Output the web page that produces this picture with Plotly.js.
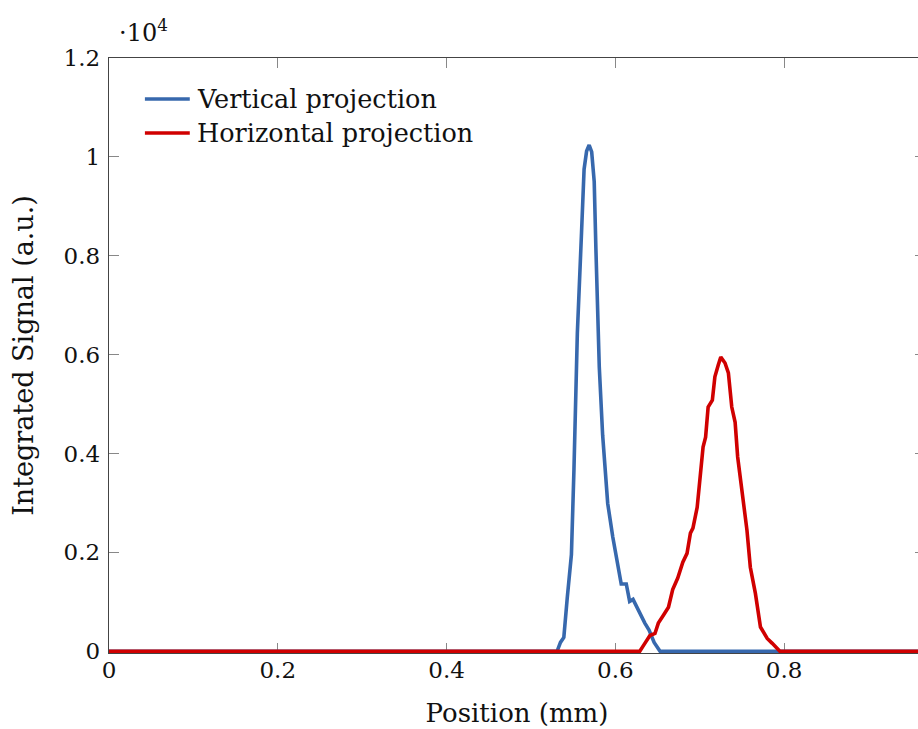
<!DOCTYPE html>
<html>
<head>
<meta charset="utf-8">
<script src="https://cdn.plot.ly/plotly-3.0.1.min.js"></script>
<style>
html, body { margin: 0; padding: 0; overflow: hidden; background: #fff; }
#chart { width: 930px; height: 729px; }
</style>
</head>
<body>
<div id="chart"></div>
<script>
// Values in units of 10^4 (a.u.)
const verticalX = [0, 0.531, 0.535, 0.539, 0.543, 0.548, 0.551, 0.555, 0.560, 0.563, 0.566, 0.569, 0.572, 0.575, 0.577, 0.581, 0.585, 0.591, 0.597, 0.603, 0.607, 0.613, 0.617, 0.621, 0.626, 0.632, 0.635, 0.640, 0.646, 0.653, 0.97];
const verticalY = [0, 0, 0.018, 0.028, 0.107, 0.196, 0.368, 0.643, 0.848, 0.975, 1.012, 1.024, 1.010, 0.950, 0.814, 0.575, 0.437, 0.299, 0.231, 0.170, 0.136, 0.136, 0.101, 0.105, 0.087, 0.067, 0.057, 0.043, 0.018, 0, 0];

const horizontalX = [0, 0.629, 0.635, 0.641, 0.647, 0.651, 0.657, 0.663, 0.668, 0.674, 0.680, 0.685, 0.689, 0.692, 0.697, 0.700, 0.704, 0.707, 0.710, 0.715, 0.718, 0.722, 0.725, 0.730, 0.734, 0.738, 0.742, 0.745, 0.750, 0.756, 0.760, 0.766, 0.772, 0.780, 0.786, 0.792, 0.795, 0.97];
const horizontalY = [0, 0, 0.016, 0.032, 0.036, 0.057, 0.073, 0.089, 0.125, 0.148, 0.180, 0.198, 0.239, 0.249, 0.291, 0.346, 0.413, 0.433, 0.494, 0.508, 0.555, 0.579, 0.595, 0.583, 0.563, 0.494, 0.463, 0.393, 0.326, 0.245, 0.170, 0.117, 0.049, 0.026, 0.016, 0.006, 0, 0];

const seriesNames = ['Vertical projection', 'Horizontal projection'];
const seriesColors = ['#3768ad', '#d00000'];

const xTickVals = [0, 0.2, 0.4, 0.6, 0.8];
const xTickText = ['0', '0.2', '0.4', '0.6', '0.8'];
const yTickVals = [0, 0.2, 0.4, 0.6, 0.8, 1, 1.2];
const yTickText = ['0', '0.2', '0.4', '0.6', '0.8', '1', '1.2'];

const FONT = 'DejaVu Serif, serif';
const TXT = '#111';

const traces = [
  { x: verticalX, y: verticalY, mode: 'lines', name: seriesNames[0],
    line: { color: seriesColors[0], width: 3.6 } },
  { x: horizontalX, y: horizontalY, mode: 'lines', name: seriesNames[1],
    line: { color: seriesColors[1], width: 3.6 } }
];

const axisCommon = {
  showgrid: false, zeroline: false, showline: true, mirror: 'allticks',
  linecolor: '#444', linewidth: 1.3, ticks: 'inside', ticklen: 10,
  tickcolor: '#888', tickwidth: 1, layer: 'below traces',
  tickfont: { family: FONT, size: 23, color: TXT }
};

// legend drawn in paper coordinates
const legRowsY = [0.931, 0.874];
const shapes = seriesNames.map((n, i) => ({
  type: 'line', xref: 'paper', yref: 'paper',
  x0: 0.044, x1: 0.099, y0: legRowsY[i], y1: legRowsY[i],
  line: { color: seriesColors[i], width: 3.6 }
}));
const legendText = seriesNames.map((n, i) => ({
  xref: 'paper', yref: 'paper', x: 0.106, y: legRowsY[i],
  xanchor: 'left', yanchor: 'middle', showarrow: false,
  text: n, font: { family: FONT, size: 25.5, color: TXT }
}));

const layout = {
  width: 930, height: 729,
  margin: { l: 109, r: 5, t: 58, b: 76 },
  paper_bgcolor: '#fff', plot_bgcolor: '#fff',
  showlegend: false,
  xaxis: Object.assign({}, axisCommon, {
    range: [0, 0.967], tickvals: xTickVals, ticktext: xTickText,
    ticklabelstandoff: -4,
    title: { text: 'Position (mm)', font: { family: FONT, size: 26, color: TXT }, standoff: 22 }
  }),
  yaxis: Object.assign({}, axisCommon, {
    range: [-0.0035, 1.2], tickvals: yTickVals, ticktext: yTickText,
    ticklabelstandoff: 3,
    title: { text: 'Integrated Signal (a.u.)', font: { family: FONT, size: 27, color: TXT }, standoff: 22 }
  }),
  shapes: shapes,
  annotations: legendText.concat([{
    xref: 'paper', yref: 'paper', x: 0.01, y: 1.0, xanchor: 'left', yanchor: 'bottom',
    yshift: 9, showarrow: false,
    text: '·10<sup>4</sup>', font: { family: FONT, size: 24, color: TXT }
  }])
};

Plotly.newPlot('chart', traces, layout, { displayModeBar: false, staticPlot: true });
</script>
</body>
</html>
